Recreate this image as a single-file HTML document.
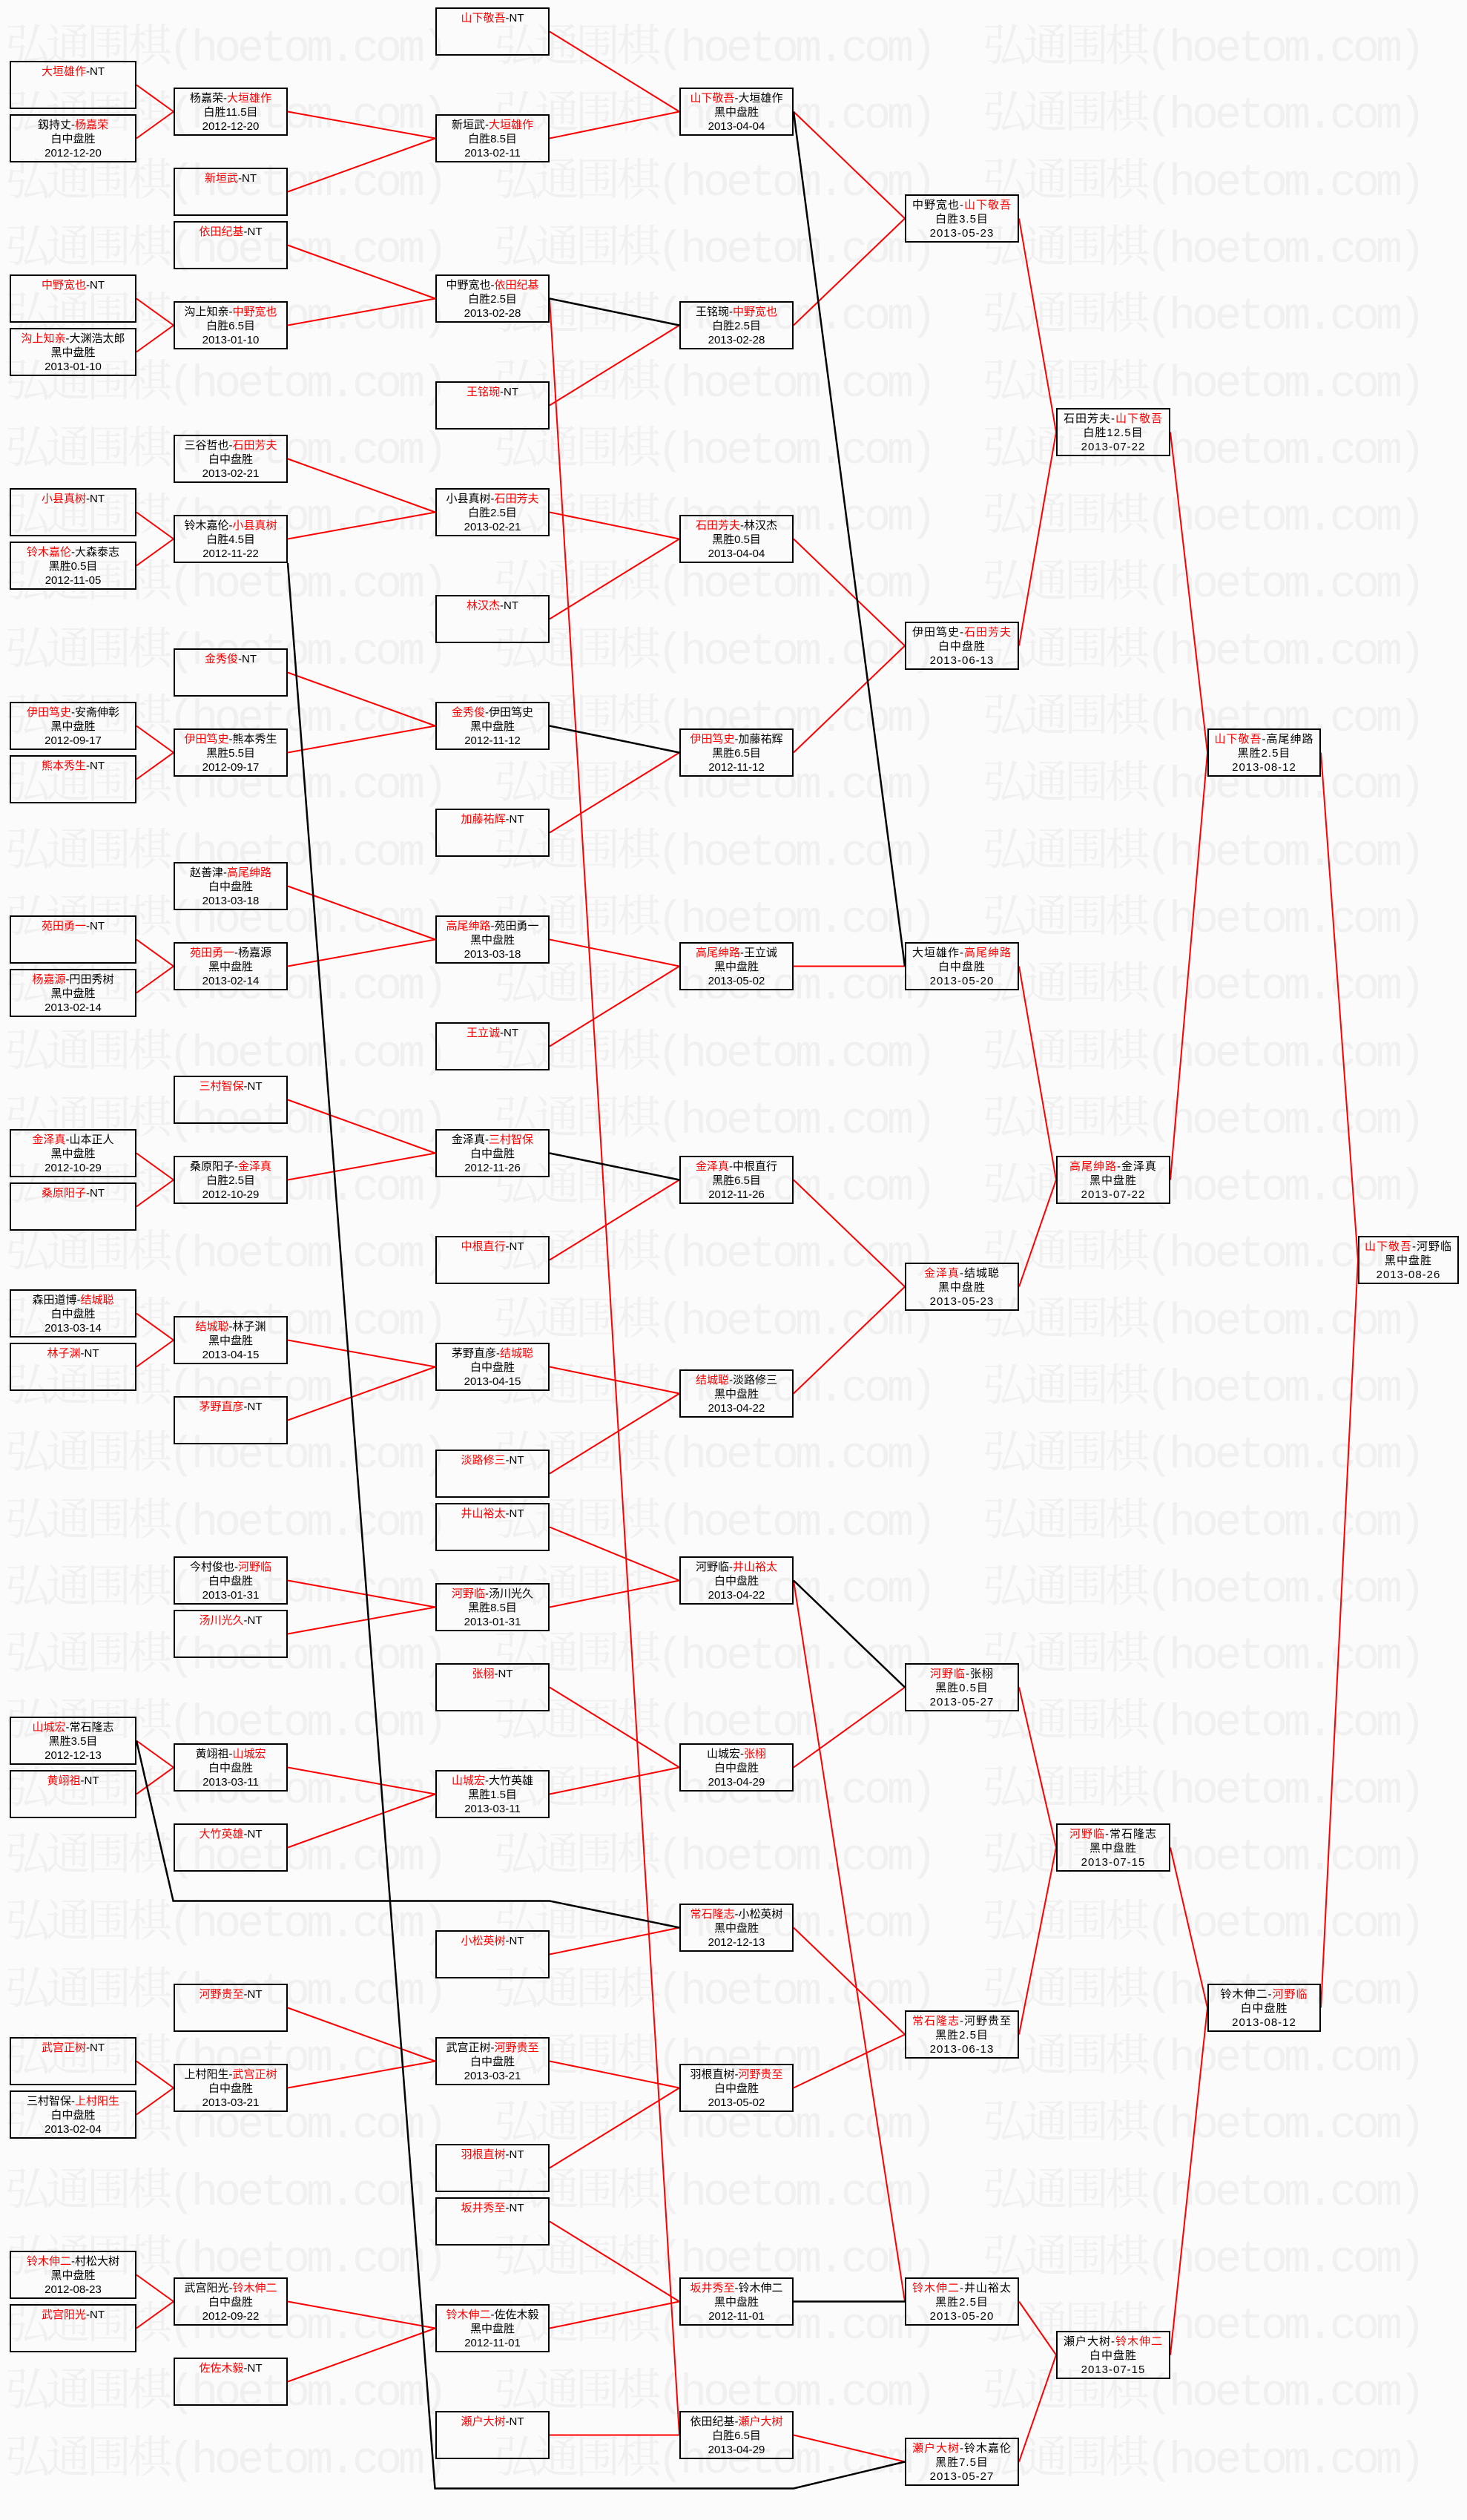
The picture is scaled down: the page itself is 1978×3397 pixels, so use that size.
<!DOCTYPE html>
<html><head><meta charset="utf-8"><style>
html,body{margin:0;padding:0}
body{width:1978px;height:3397px;position:relative;background:#fbfbfb;overflow:hidden;font-family:"Liberation Sans","Noto Sans CJK SC",sans-serif}
.wm{position:absolute;left:7px;white-space:nowrap;font-family:"Liberation Mono","Noto Serif CJK SC",serif;font-size:60px;line-height:70px;color:#f0f0f0;letter-spacing:-5px}
.wm span{display:inline-block;width:659px;overflow:hidden}
svg{position:absolute;left:0;top:0}
.b{position:absolute;height:65px;border:2px solid #000;box-sizing:border-box;text-align:center;font-size:15px;line-height:19px;padding-top:3px;color:#000;white-space:nowrap;overflow:hidden}
.c1{left:13px;width:171px}.c2{left:234px;width:154px}.c3{left:587px;width:154px}.c4{left:916px;width:154px}
.c5{left:1220px;width:154px;letter-spacing:1px}.c6{left:1424px;width:154px;letter-spacing:1px}.c7{left:1628px;width:153px;letter-spacing:1px}.c8{left:1831px;width:136px;letter-spacing:1px}
i{font-style:normal;color:#f00}
</style></head><body>
<div class="wm" style="top:32px"><span>弘通围棋(hoetom.com)</span><span>弘通围棋(hoetom.com)</span><span>弘通围棋(hoetom.com)</span></div>
<div class="wm" style="top:122px"><span>弘通围棋(hoetom.com)</span><span>弘通围棋(hoetom.com)</span><span>弘通围棋(hoetom.com)</span></div>
<div class="wm" style="top:213px"><span>弘通围棋(hoetom.com)</span><span>弘通围棋(hoetom.com)</span><span>弘通围棋(hoetom.com)</span></div>
<div class="wm" style="top:303px"><span>弘通围棋(hoetom.com)</span><span>弘通围棋(hoetom.com)</span><span>弘通围棋(hoetom.com)</span></div>
<div class="wm" style="top:393px"><span>弘通围棋(hoetom.com)</span><span>弘通围棋(hoetom.com)</span><span>弘通围棋(hoetom.com)</span></div>
<div class="wm" style="top:484px"><span>弘通围棋(hoetom.com)</span><span>弘通围棋(hoetom.com)</span><span>弘通围棋(hoetom.com)</span></div>
<div class="wm" style="top:574px"><span>弘通围棋(hoetom.com)</span><span>弘通围棋(hoetom.com)</span><span>弘通围棋(hoetom.com)</span></div>
<div class="wm" style="top:664px"><span>弘通围棋(hoetom.com)</span><span>弘通围棋(hoetom.com)</span><span>弘通围棋(hoetom.com)</span></div>
<div class="wm" style="top:754px"><span>弘通围棋(hoetom.com)</span><span>弘通围棋(hoetom.com)</span><span>弘通围棋(hoetom.com)</span></div>
<div class="wm" style="top:845px"><span>弘通围棋(hoetom.com)</span><span>弘通围棋(hoetom.com)</span><span>弘通围棋(hoetom.com)</span></div>
<div class="wm" style="top:935px"><span>弘通围棋(hoetom.com)</span><span>弘通围棋(hoetom.com)</span><span>弘通围棋(hoetom.com)</span></div>
<div class="wm" style="top:1025px"><span>弘通围棋(hoetom.com)</span><span>弘通围棋(hoetom.com)</span><span>弘通围棋(hoetom.com)</span></div>
<div class="wm" style="top:1116px"><span>弘通围棋(hoetom.com)</span><span>弘通围棋(hoetom.com)</span><span>弘通围棋(hoetom.com)</span></div>
<div class="wm" style="top:1206px"><span>弘通围棋(hoetom.com)</span><span>弘通围棋(hoetom.com)</span><span>弘通围棋(hoetom.com)</span></div>
<div class="wm" style="top:1296px"><span>弘通围棋(hoetom.com)</span><span>弘通围棋(hoetom.com)</span><span>弘通围棋(hoetom.com)</span></div>
<div class="wm" style="top:1387px"><span>弘通围棋(hoetom.com)</span><span>弘通围棋(hoetom.com)</span><span>弘通围棋(hoetom.com)</span></div>
<div class="wm" style="top:1477px"><span>弘通围棋(hoetom.com)</span><span>弘通围棋(hoetom.com)</span><span>弘通围棋(hoetom.com)</span></div>
<div class="wm" style="top:1567px"><span>弘通围棋(hoetom.com)</span><span>弘通围棋(hoetom.com)</span><span>弘通围棋(hoetom.com)</span></div>
<div class="wm" style="top:1657px"><span>弘通围棋(hoetom.com)</span><span>弘通围棋(hoetom.com)</span><span>弘通围棋(hoetom.com)</span></div>
<div class="wm" style="top:1748px"><span>弘通围棋(hoetom.com)</span><span>弘通围棋(hoetom.com)</span><span>弘通围棋(hoetom.com)</span></div>
<div class="wm" style="top:1838px"><span>弘通围棋(hoetom.com)</span><span>弘通围棋(hoetom.com)</span><span>弘通围棋(hoetom.com)</span></div>
<div class="wm" style="top:1928px"><span>弘通围棋(hoetom.com)</span><span>弘通围棋(hoetom.com)</span><span>弘通围棋(hoetom.com)</span></div>
<div class="wm" style="top:2019px"><span>弘通围棋(hoetom.com)</span><span>弘通围棋(hoetom.com)</span><span>弘通围棋(hoetom.com)</span></div>
<div class="wm" style="top:2109px"><span>弘通围棋(hoetom.com)</span><span>弘通围棋(hoetom.com)</span><span>弘通围棋(hoetom.com)</span></div>
<div class="wm" style="top:2199px"><span>弘通围棋(hoetom.com)</span><span>弘通围棋(hoetom.com)</span><span>弘通围棋(hoetom.com)</span></div>
<div class="wm" style="top:2289px"><span>弘通围棋(hoetom.com)</span><span>弘通围棋(hoetom.com)</span><span>弘通围棋(hoetom.com)</span></div>
<div class="wm" style="top:2380px"><span>弘通围棋(hoetom.com)</span><span>弘通围棋(hoetom.com)</span><span>弘通围棋(hoetom.com)</span></div>
<div class="wm" style="top:2470px"><span>弘通围棋(hoetom.com)</span><span>弘通围棋(hoetom.com)</span><span>弘通围棋(hoetom.com)</span></div>
<div class="wm" style="top:2560px"><span>弘通围棋(hoetom.com)</span><span>弘通围棋(hoetom.com)</span><span>弘通围棋(hoetom.com)</span></div>
<div class="wm" style="top:2651px"><span>弘通围棋(hoetom.com)</span><span>弘通围棋(hoetom.com)</span><span>弘通围棋(hoetom.com)</span></div>
<div class="wm" style="top:2741px"><span>弘通围棋(hoetom.com)</span><span>弘通围棋(hoetom.com)</span><span>弘通围棋(hoetom.com)</span></div>
<div class="wm" style="top:2831px"><span>弘通围棋(hoetom.com)</span><span>弘通围棋(hoetom.com)</span><span>弘通围棋(hoetom.com)</span></div>
<div class="wm" style="top:2922px"><span>弘通围棋(hoetom.com)</span><span>弘通围棋(hoetom.com)</span><span>弘通围棋(hoetom.com)</span></div>
<div class="wm" style="top:3012px"><span>弘通围棋(hoetom.com)</span><span>弘通围棋(hoetom.com)</span><span>弘通围棋(hoetom.com)</span></div>
<div class="wm" style="top:3102px"><span>弘通围棋(hoetom.com)</span><span>弘通围棋(hoetom.com)</span><span>弘通围棋(hoetom.com)</span></div>
<div class="wm" style="top:3192px"><span>弘通围棋(hoetom.com)</span><span>弘通围棋(hoetom.com)</span><span>弘通围棋(hoetom.com)</span></div>
<div class="wm" style="top:3283px"><span>弘通围棋(hoetom.com)</span><span>弘通围棋(hoetom.com)</span><span>弘通围棋(hoetom.com)</span></div>

<svg width="1978" height="3397" viewBox="0 0 1978 3397">
<g stroke="#f00" stroke-width="2" fill="none">
<line x1="184" y1="114.5" x2="234" y2="150.5"/><line x1="184" y1="186.5" x2="234" y2="150.5"/>
<line x1="184" y1="402.5" x2="234" y2="438.5"/><line x1="184" y1="474.5" x2="234" y2="438.5"/>
<line x1="184" y1="690.5" x2="234" y2="726.5"/><line x1="184" y1="762.5" x2="234" y2="726.5"/>
<line x1="184" y1="978.5" x2="234" y2="1014.5"/><line x1="184" y1="1050.5" x2="234" y2="1014.5"/>
<line x1="184" y1="1266.5" x2="234" y2="1302.5"/><line x1="184" y1="1338.5" x2="234" y2="1302.5"/>
<line x1="184" y1="1554.5" x2="234" y2="1590.5"/><line x1="184" y1="1626.5" x2="234" y2="1590.5"/>
<line x1="184" y1="1770.5" x2="234" y2="1806.5"/><line x1="184" y1="1842.5" x2="234" y2="1806.5"/>
<line x1="184" y1="2346.5" x2="234" y2="2382.5"/><line x1="184" y1="2418.5" x2="234" y2="2382.5"/>
<line x1="184" y1="2778.5" x2="234" y2="2814.5"/><line x1="184" y1="2850.5" x2="234" y2="2814.5"/>
<line x1="184" y1="3066.5" x2="234" y2="3102.5"/><line x1="184" y1="3138.5" x2="234" y2="3102.5"/>

<line x1="388" y1="150.5" x2="587" y2="186.5"/><line x1="388" y1="258.5" x2="587" y2="186.5"/>
<line x1="388" y1="330.5" x2="587" y2="402.5"/><line x1="388" y1="438.5" x2="587" y2="402.5"/>
<line x1="388" y1="618.5" x2="587" y2="690.5"/><line x1="388" y1="726.5" x2="587" y2="690.5"/>
<line x1="388" y1="906.5" x2="587" y2="978.5"/><line x1="388" y1="1014.5" x2="587" y2="978.5"/>
<line x1="388" y1="1194.5" x2="587" y2="1266.5"/><line x1="388" y1="1302.5" x2="587" y2="1266.5"/>
<line x1="388" y1="1482.5" x2="587" y2="1554.5"/><line x1="388" y1="1590.5" x2="587" y2="1554.5"/>
<line x1="388" y1="1806.5" x2="587" y2="1842.5"/><line x1="388" y1="1914.5" x2="587" y2="1842.5"/>
<line x1="388" y1="2130.5" x2="587" y2="2166.5"/><line x1="388" y1="2202.5" x2="587" y2="2166.5"/>
<line x1="388" y1="2382.5" x2="587" y2="2418.5"/><line x1="388" y1="2490.5" x2="587" y2="2418.5"/>
<line x1="388" y1="2706.5" x2="587" y2="2778.5"/><line x1="388" y1="2814.5" x2="587" y2="2778.5"/>
<line x1="388" y1="3102.5" x2="587" y2="3138.5"/><line x1="388" y1="3210.5" x2="587" y2="3138.5"/>

<line x1="741" y1="42.5" x2="916" y2="150.5"/><line x1="741" y1="186.5" x2="916" y2="150.5"/>
<line x1="741" y1="546.5" x2="916" y2="438.5"/>
<line x1="741" y1="402.5" x2="916" y2="3282.5"/>
<line x1="741" y1="690.5" x2="916" y2="726.5"/><line x1="741" y1="834.5" x2="916" y2="726.5"/>
<line x1="741" y1="1122.5" x2="916" y2="1014.5"/>
<line x1="741" y1="1266.5" x2="916" y2="1302.5"/><line x1="741" y1="1410.5" x2="916" y2="1302.5"/>
<line x1="741" y1="1698.5" x2="916" y2="1590.5"/>
<line x1="741" y1="1842.5" x2="916" y2="1878.5"/><line x1="741" y1="1986.5" x2="916" y2="1878.5"/>
<line x1="741" y1="2058.5" x2="916" y2="2130.5"/><line x1="741" y1="2166.5" x2="916" y2="2130.5"/>
<line x1="741" y1="2274.5" x2="916" y2="2382.5"/><line x1="741" y1="2418.5" x2="916" y2="2382.5"/>
<line x1="741" y1="2634.5" x2="916" y2="2598.5"/>
<line x1="741" y1="2778.5" x2="916" y2="2814.5"/><line x1="741" y1="2922.5" x2="916" y2="2814.5"/>
<line x1="741" y1="2994.5" x2="916" y2="3102.5"/><line x1="741" y1="3138.5" x2="916" y2="3102.5"/>
<line x1="741" y1="3282.5" x2="916" y2="3282.5"/>

<line x1="1070" y1="150.5" x2="1220" y2="294.5"/><line x1="1070" y1="438.5" x2="1220" y2="294.5"/>
<line x1="1070" y1="726.5" x2="1220" y2="870.5"/><line x1="1070" y1="1014.5" x2="1220" y2="870.5"/>
<line x1="1070" y1="1302.5" x2="1220" y2="1302.5"/>
<line x1="1070" y1="1590.5" x2="1220" y2="1734.5"/><line x1="1070" y1="1878.5" x2="1220" y2="1734.5"/>
<line x1="1070" y1="2382.5" x2="1220" y2="2274.5"/>
<line x1="1070" y1="2130.5" x2="1220" y2="3102.5"/>
<line x1="1070" y1="2598.5" x2="1220" y2="2742.5"/><line x1="1070" y1="2814.5" x2="1220" y2="2742.5"/>
<line x1="1070" y1="3282.5" x2="1220" y2="3318.5"/>

<line x1="1374" y1="294.5" x2="1424" y2="582.5"/><line x1="1374" y1="870.5" x2="1424" y2="582.5"/>
<line x1="1374" y1="1302.5" x2="1424" y2="1590.5"/><line x1="1374" y1="1734.5" x2="1424" y2="1590.5"/>
<line x1="1374" y1="2274.5" x2="1424" y2="2490.5"/><line x1="1374" y1="2742.5" x2="1424" y2="2490.5"/>
<line x1="1374" y1="3102.5" x2="1424" y2="3174.5"/><line x1="1374" y1="3318.5" x2="1424" y2="3174.5"/>

<line x1="1578" y1="582.5" x2="1628" y2="1014.5"/><line x1="1578" y1="1590.5" x2="1628" y2="1014.5"/>
<line x1="1578" y1="2490.5" x2="1628" y2="2706.5"/><line x1="1578" y1="3174.5" x2="1628" y2="2706.5"/>

<line x1="1781" y1="1014.5" x2="1831" y2="1698.5"/><line x1="1781" y1="2706.5" x2="1831" y2="1698.5"/>
</g>
<g stroke="#000" stroke-width="2.5" fill="none">
<line x1="741" y1="402.5" x2="916" y2="438.5"/>
<line x1="741" y1="978.5" x2="916" y2="1014.5"/>
<line x1="741" y1="1554.5" x2="916" y2="1590.5"/>
<line x1="1070" y1="150.5" x2="1220" y2="1302.5"/>
<line x1="1070" y1="2130.5" x2="1220" y2="2274.5"/>
<line x1="1070" y1="3102.5" x2="1220" y2="3102.5"/>
<polyline points="184,2346.5 233.6,2562.5 741,2562.5 916,2598.5"/>
<polyline points="388,759 586.5,3354.5 1070,3354.5 1220,3318.5"/>
</g>
</svg>

<div class="b c1" style="top:82px"><i>大垣雄作</i>-NT</div>
<div class="b c1" style="top:154px">釼持丈-<i>杨嘉荣</i><br>白中盘胜<br>2012-12-20</div>
<div class="b c1" style="top:370px"><i>中野宽也</i>-NT</div>
<div class="b c1" style="top:442px"><i>沟上知亲</i>-大渊浩太郎<br>黑中盘胜<br>2013-01-10</div>
<div class="b c1" style="top:658px"><i>小县真树</i>-NT</div>
<div class="b c1" style="top:730px"><i>铃木嘉伦</i>-大森泰志<br>黑胜0.5目<br>2012-11-05</div>
<div class="b c1" style="top:946px"><i>伊田笃史</i>-安斋伸彰<br>黑中盘胜<br>2012-09-17</div>
<div class="b c1" style="top:1018px"><i>熊本秀生</i>-NT</div>
<div class="b c1" style="top:1234px"><i>苑田勇一</i>-NT</div>
<div class="b c1" style="top:1306px"><i>杨嘉源</i>-円田秀树<br>黑中盘胜<br>2013-02-14</div>
<div class="b c1" style="top:1522px"><i>金泽真</i>-山本正人<br>黑中盘胜<br>2012-10-29</div>
<div class="b c1" style="top:1594px"><i>桑原阳子</i>-NT</div>
<div class="b c1" style="top:1738px">森田道博-<i>结城聪</i><br>白中盘胜<br>2013-03-14</div>
<div class="b c1" style="top:1810px"><i>林子渊</i>-NT</div>
<div class="b c1" style="top:2314px"><i>山城宏</i>-常石隆志<br>黑胜3.5目<br>2012-12-13</div>
<div class="b c1" style="top:2386px"><i>黄翊祖</i>-NT</div>
<div class="b c1" style="top:2746px"><i>武宫正树</i>-NT</div>
<div class="b c1" style="top:2818px">三村智保-<i>上村阳生</i><br>白中盘胜<br>2013-02-04</div>
<div class="b c1" style="top:3034px"><i>铃木伸二</i>-村松大树<br>黑中盘胜<br>2012-08-23</div>
<div class="b c1" style="top:3106px"><i>武宫阳光</i>-NT</div>

<div class="b c2" style="top:118px">杨嘉荣-<i>大垣雄作</i><br>白胜11.5目<br>2012-12-20</div>
<div class="b c2" style="top:226px"><i>新垣武</i>-NT</div>
<div class="b c2" style="top:298px"><i>依田纪基</i>-NT</div>
<div class="b c2" style="top:406px">沟上知亲-<i>中野宽也</i><br>白胜6.5目<br>2013-01-10</div>
<div class="b c2" style="top:586px">三谷哲也-<i>石田芳夫</i><br>白中盘胜<br>2013-02-21</div>
<div class="b c2" style="top:694px">铃木嘉伦-<i>小县真树</i><br>白胜4.5目<br>2012-11-22</div>
<div class="b c2" style="top:874px"><i>金秀俊</i>-NT</div>
<div class="b c2" style="top:982px"><i>伊田笃史</i>-熊本秀生<br>黑胜5.5目<br>2012-09-17</div>
<div class="b c2" style="top:1162px">赵善津-<i>高尾绅路</i><br>白中盘胜<br>2013-03-18</div>
<div class="b c2" style="top:1270px"><i>苑田勇一</i>-杨嘉源<br>黑中盘胜<br>2013-02-14</div>
<div class="b c2" style="top:1450px"><i>三村智保</i>-NT</div>
<div class="b c2" style="top:1558px">桑原阳子-<i>金泽真</i><br>白胜2.5目<br>2012-10-29</div>
<div class="b c2" style="top:1774px"><i>结城聪</i>-林子渊<br>黑中盘胜<br>2013-04-15</div>
<div class="b c2" style="top:1882px"><i>茅野直彦</i>-NT</div>
<div class="b c2" style="top:2098px">今村俊也-<i>河野临</i><br>白中盘胜<br>2013-01-31</div>
<div class="b c2" style="top:2170px"><i>汤川光久</i>-NT</div>
<div class="b c2" style="top:2350px">黄翊祖-<i>山城宏</i><br>白中盘胜<br>2013-03-11</div>
<div class="b c2" style="top:2458px"><i>大竹英雄</i>-NT</div>
<div class="b c2" style="top:2674px"><i>河野贵至</i>-NT</div>
<div class="b c2" style="top:2782px">上村阳生-<i>武宫正树</i><br>白中盘胜<br>2013-03-21</div>
<div class="b c2" style="top:3070px">武宫阳光-<i>铃木伸二</i><br>白中盘胜<br>2012-09-22</div>
<div class="b c2" style="top:3178px"><i>佐佐木毅</i>-NT</div>

<div class="b c3" style="top:10px"><i>山下敬吾</i>-NT</div>
<div class="b c3" style="top:154px">新垣武-<i>大垣雄作</i><br>白胜8.5目<br>2013-02-11</div>
<div class="b c3" style="top:370px">中野宽也-<i>依田纪基</i><br>白胜2.5目<br>2013-02-28</div>
<div class="b c3" style="top:514px"><i>王铭琬</i>-NT</div>
<div class="b c3" style="top:658px">小县真树-<i>石田芳夫</i><br>白胜2.5目<br>2013-02-21</div>
<div class="b c3" style="top:802px"><i>林汉杰</i>-NT</div>
<div class="b c3" style="top:946px"><i>金秀俊</i>-伊田笃史<br>黑中盘胜<br>2012-11-12</div>
<div class="b c3" style="top:1090px"><i>加藤祐辉</i>-NT</div>
<div class="b c3" style="top:1234px"><i>高尾绅路</i>-苑田勇一<br>黑中盘胜<br>2013-03-18</div>
<div class="b c3" style="top:1378px"><i>王立诚</i>-NT</div>
<div class="b c3" style="top:1522px">金泽真-<i>三村智保</i><br>白中盘胜<br>2012-11-26</div>
<div class="b c3" style="top:1666px"><i>中根直行</i>-NT</div>
<div class="b c3" style="top:1810px">茅野直彦-<i>结城聪</i><br>白中盘胜<br>2013-04-15</div>
<div class="b c3" style="top:1954px"><i>淡路修三</i>-NT</div>
<div class="b c3" style="top:2026px"><i>井山裕太</i>-NT</div>
<div class="b c3" style="top:2134px"><i>河野临</i>-汤川光久<br>黑胜8.5目<br>2013-01-31</div>
<div class="b c3" style="top:2242px"><i>张栩</i>-NT</div>
<div class="b c3" style="top:2386px"><i>山城宏</i>-大竹英雄<br>黑胜1.5目<br>2013-03-11</div>
<div class="b c3" style="top:2602px"><i>小松英树</i>-NT</div>
<div class="b c3" style="top:2746px">武宫正树-<i>河野贵至</i><br>白中盘胜<br>2013-03-21</div>
<div class="b c3" style="top:2890px"><i>羽根直树</i>-NT</div>
<div class="b c3" style="top:2962px"><i>坂井秀至</i>-NT</div>
<div class="b c3" style="top:3106px"><i>铃木伸二</i>-佐佐木毅<br>黑中盘胜<br>2012-11-01</div>
<div class="b c3" style="top:3250px"><i>瀬户大树</i>-NT</div>

<div class="b c4" style="top:118px"><i>山下敬吾</i>-大垣雄作<br>黑中盘胜<br>2013-04-04</div>
<div class="b c4" style="top:406px">王铭琬-<i>中野宽也</i><br>白胜2.5目<br>2013-02-28</div>
<div class="b c4" style="top:694px"><i>石田芳夫</i>-林汉杰<br>黑胜0.5目<br>2013-04-04</div>
<div class="b c4" style="top:982px"><i>伊田笃史</i>-加藤祐辉<br>黑胜6.5目<br>2012-11-12</div>
<div class="b c4" style="top:1270px"><i>高尾绅路</i>-王立诚<br>黑中盘胜<br>2013-05-02</div>
<div class="b c4" style="top:1558px"><i>金泽真</i>-中根直行<br>黑胜6.5目<br>2012-11-26</div>
<div class="b c4" style="top:1846px"><i>结城聪</i>-淡路修三<br>黑中盘胜<br>2013-04-22</div>
<div class="b c4" style="top:2098px">河野临-<i>井山裕太</i><br>白中盘胜<br>2013-04-22</div>
<div class="b c4" style="top:2350px">山城宏-<i>张栩</i><br>白中盘胜<br>2013-04-29</div>
<div class="b c4" style="top:2566px"><i>常石隆志</i>-小松英树<br>黑中盘胜<br>2012-12-13</div>
<div class="b c4" style="top:2782px">羽根直树-<i>河野贵至</i><br>白中盘胜<br>2013-05-02</div>
<div class="b c4" style="top:3070px"><i>坂井秀至</i>-铃木伸二<br>黑中盘胜<br>2012-11-01</div>
<div class="b c4" style="top:3250px">依田纪基-<i>瀬户大树</i><br>白胜6.5目<br>2013-04-29</div>

<div class="b c5" style="top:262px">中野宽也-<i>山下敬吾</i><br>白胜3.5目<br>2013-05-23</div>
<div class="b c5" style="top:838px">伊田笃史-<i>石田芳夫</i><br>白中盘胜<br>2013-06-13</div>
<div class="b c5" style="top:1270px">大垣雄作-<i>高尾绅路</i><br>白中盘胜<br>2013-05-20</div>
<div class="b c5" style="top:1702px"><i>金泽真</i>-结城聪<br>黑中盘胜<br>2013-05-23</div>
<div class="b c5" style="top:2242px"><i>河野临</i>-张栩<br>黑胜0.5目<br>2013-05-27</div>
<div class="b c5" style="top:2710px"><i>常石隆志</i>-河野贵至<br>黑胜2.5目<br>2013-06-13</div>
<div class="b c5" style="top:3070px"><i>铃木伸二</i>-井山裕太<br>黑胜2.5目<br>2013-05-20</div>
<div class="b c5" style="top:3286px"><i>瀬户大树</i>-铃木嘉伦<br>黑胜7.5目<br>2013-05-27</div>

<div class="b c6" style="top:550px">石田芳夫-<i>山下敬吾</i><br>白胜12.5目<br>2013-07-22</div>
<div class="b c6" style="top:1558px"><i>高尾绅路</i>-金泽真<br>黑中盘胜<br>2013-07-22</div>
<div class="b c6" style="top:2458px"><i>河野临</i>-常石隆志<br>黑中盘胜<br>2013-07-15</div>
<div class="b c6" style="top:3142px">瀬户大树-<i>铃木伸二</i><br>白中盘胜<br>2013-07-15</div>

<div class="b c7" style="top:982px"><i>山下敬吾</i>-高尾绅路<br>黑胜2.5目<br>2013-08-12</div>
<div class="b c7" style="top:2674px">铃木伸二-<i>河野临</i><br>白中盘胜<br>2013-08-12</div>

<div class="b c8" style="top:1666px"><i>山下敬吾</i>-河野临<br>黑中盘胜<br>2013-08-26</div>
</body></html>
